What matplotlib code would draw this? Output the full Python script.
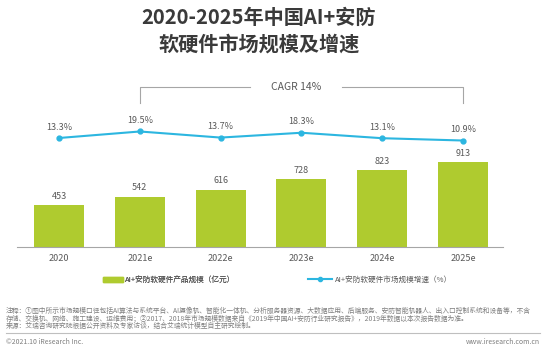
import numpy as np
import matplotlib.pyplot as plt
from matplotlib.patches import Patch
from matplotlib.lines import Line2D

plt.rcParams['font.family'] = ['Noto Sans CJK SC', 'DejaVu Sans']

# data
years = ['2020', '2021e', '2022e', '2023e', '2024e', '2025e']
market = [453, 542, 616, 728, 823, 913]
growth = [13.3, 19.5, 13.7, 18.3, 13.1, 10.9]
cagr_text = 'CAGR 14%'

bar_color = '#afcb2f'
line_color = '#2cb6e0'
text_color = '#595959'

W, H = 546, 351
fig = plt.figure(figsize=(W / 100, H / 100), dpi=100)

def ax_rect(left, top, right, bottom):
    return [left / W, 1 - bottom / H, (right - left) / W, (bottom - top) / H]

x = np.arange(len(years))
xlim = (-0.52, 5.495)

# bars
ax = fig.add_axes(ax_rect(17, 120, 503, 247))
ax.bar(x, market, width=0.62, color=bar_color, zorder=2)
ax.set_xlim(*xlim)
ax.set_ylim(0, 127 / 0.0931)
for xi, v in zip(x, market):
    ax.text(xi, v + 45, str(v), ha='center', va='bottom', fontsize=6.5, color=text_color)
for s in ['top', 'right', 'left']:
    ax.spines[s].set_visible(False)
ax.spines['bottom'].set_color('#a6a6a6')
ax.spines['bottom'].set_linewidth(0.8)
ax.set_yticks([])
ax.set_xticks(x)
ax.set_xticklabels(years, fontsize=6.5, color=text_color)
ax.tick_params(axis='x', length=0, pad=5)

# growth line
lx = fig.add_axes(ax_rect(17, 80, 503, 160))
lx.patch.set_alpha(0)
lx.set_xlim(*xlim)
# 13.3 at 138px, ~1.05px per percent
ppp = 1.05
lx.set_ylim(13.3 - (160 - 138) / ppp, 13.3 + (138 - 80) / ppp)
lx.plot(x, growth, color=line_color, lw=1.5, marker='o', ms=3.5, zorder=3)
for xi, v in zip(x, growth):
    lx.text(xi, v + 6, f'{v}%', ha='center', va='bottom', fontsize=6.5, color=text_color)
lx.axis('off')

# CAGR bracket
yb = 13.3 + (138 - 87) / ppp
yd = 13.3 + (138 - 103) / ppp
bk = dict(color='#a6a6a6', lw=0.8, clip_on=False)
lx.plot([1, 1, 2.36], [yd, yb, yb], **bk)
lx.plot([3.5, 5, 5], [yb, yb, yd], **bk)
lx.text(2.93, yb, cagr_text, ha='center', va='center', fontsize=7.5, color=text_color)

# title
fig.text(259 / W, 1 - 17 / H, '2020-2025年中国AI+安防', ha='center', va='center',
         fontsize=14.5, fontweight='bold', color='#3a3a3a')
fig.text(259 / W, 1 - 44 / H, '软硬件市场规模及增速', ha='center', va='center',
         fontsize=14.5, fontweight='bold', color='#3a3a3a')

# legend
leg1 = fig.legend(handles=[Patch(color=bar_color, label='AI+安防软硬件产品规模（亿元）')],
                  loc='center left', bbox_to_anchor=(96 / W, 1 - 280 / H), frameon=False,
                  fontsize=5.5, labelcolor=text_color, handlelength=2.6, handleheight=0.6,
                  handletextpad=0.3)
fig.legend(handles=[Line2D([0], [0], color=line_color, lw=1.5, marker='o', ms=3,
                           label='AI+安防软硬件市场规模增速（%）')],
           loc='center left', bbox_to_anchor=(301 / W, 1 - 280 / H), frameon=False,
           fontsize=5.5, labelcolor=text_color, handlelength=3.2, handletextpad=0.3)
fig.add_artist(leg1)

# notes
notes = [
    '注释：①图中所示市场规模口径包括AI算法与系统平台、AI摄像机、智能化一体机、分析服务器资源、大数据应用、后端服务、安防智能机器人、出入口控制系统和设备等，不含',
    '存储、交换机、网络、施工建设、运维费用；②2017、2018年市场规模数据来自《2019年中国AI+安防行业研究报告》，2019年数据以本次报告数据为准。',
    '来源：艾瑞咨询研究院根据公开资料及专家访谈，结合艾瑞统计模型自主研究绘制。',
]
for i, t in enumerate(notes):
    fig.text(6 / W, 1 - (311 + 7.5 * i) / H, t, ha='left', va='center', fontsize=4.9, color='#7f7f7f')

fig.add_artist(Line2D([6 / W, 540 / W], [1 - 333 / H, 1 - 333 / H], color='#bfbfbf', lw=0.8))
fig.text(6 / W, 1 - 342 / H, '©2021.10 iResearch Inc.', ha='left', va='center', fontsize=5, color='#7f7f7f')
fig.text(540 / W, 1 - 342 / H, 'www.iresearch.com.cn', ha='right', va='center', fontsize=5, color='#7f7f7f')

fig.savefig('out.png', dpi=100)
